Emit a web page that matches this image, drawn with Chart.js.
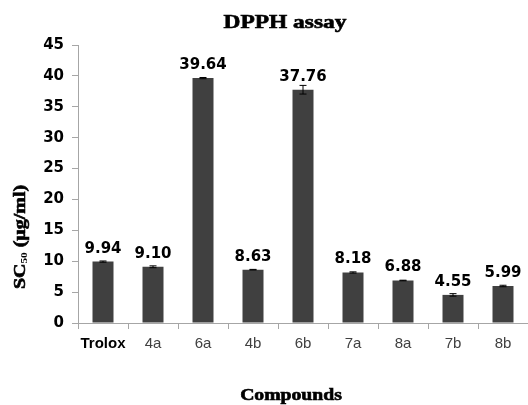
<!DOCTYPE html>
<html>
<head>
<meta charset="utf-8">
<script src="https://cdn.jsdelivr.net/npm/chart.js@4/dist/chart.umd.min.js"></script>
<style>
  html, body { margin: 0; padding: 0; background: #fff; }
  #wrap { width: 528px; height: 405px; }
</style>
</head>
<body>
<div id="wrap"><canvas id="chart" width="528" height="405"></canvas></div>
<script>
const compounds = ["Trolox", "4a", "6a", "4b", "6b", "7a", "8a", "7b", "8b"];
const sc50 = [9.94, 9.10, 39.64, 8.63, 37.76, 8.18, 6.88, 4.55, 5.99];
const sd = [0.1, 0.15, 0.1, 0.05, 0.7, 0.1, 0.05, 0.2, 0.12];
const yTicks = [0, 5, 10, 15, 20, 25, 30, 35, 40, 45];

// draw text stretched horizontally, with a thin stroke so it looks heavy like the source
function wideText(ctx, text, x, y, sx) {
  ctx.save();
  ctx.translate(x, y);
  ctx.scale(sx, 1);
  ctx.fillText(text, 0, 0);
  ctx.strokeText(text, 0, 0);
  ctx.restore();
}

const extras = {
  id: "extras",
  afterDatasetsDraw(chart) {
    const ctx = chart.ctx;
    const y = chart.scales.y;
    const bars = chart.getDatasetMeta(0).data;

    // error bars
    ctx.save();
    ctx.strokeStyle = "#000";
    ctx.lineWidth = 1;
    bars.forEach((bar, i) => {
      const top = y.getPixelForValue(sc50[i] + sd[i]);
      const bot = y.getPixelForValue(sc50[i] - sd[i]);
      ctx.beginPath();
      ctx.moveTo(bar.x, top); ctx.lineTo(bar.x, bot);
      ctx.moveTo(bar.x - 3.5, top); ctx.lineTo(bar.x + 3.5, top);
      ctx.moveTo(bar.x - 3.5, bot); ctx.lineTo(bar.x + 3.5, bot);
      ctx.stroke();
    });

    // value labels
    ctx.fillStyle = "#000";
    ctx.font = "bold 15px 'DejaVu Sans'";
    ctx.textAlign = "center";
    ctx.textBaseline = "alphabetic";
    bars.forEach((bar, i) => {
      ctx.fillText(sc50[i].toFixed(2), bar.x, bar.y - 9);
    });
    ctx.restore();
  },
  afterDraw(chart) {
    const ctx = chart.ctx;
    ctx.save();
    ctx.fillStyle = "#000";
    ctx.strokeStyle = "#000";
    ctx.lineWidth = 0.6;
    ctx.textAlign = "center";
    ctx.textBaseline = "alphabetic";

    ctx.font = "bold 18px 'Liberation Serif'";
    wideText(ctx, "DPPH assay", 285, 28, 1.3);

    ctx.font = "bold 16px 'Liberation Serif'";
    wideText(ctx, "Compounds", 291, 400, 1.23);

    // rotated y title with subscript
    ctx.translate(25, 237);
    ctx.rotate(-Math.PI / 2);
    ctx.scale(1.25, 1);
    ctx.textAlign = "left";
    const big = "bold 16px 'Liberation Serif'";
    const small = "bold 9px 'Liberation Serif'";
    ctx.font = big;
    const w1 = ctx.measureText("SC").width;
    const w3 = ctx.measureText(" (μg/ml)").width;
    ctx.font = small;
    const w2 = ctx.measureText("50").width;
    let x = -(w1 + w2 + w3) / 2;
    ctx.font = big;
    ctx.fillText("SC", x, 0);
    ctx.strokeText("SC", x, 0);
    x += w1;
    ctx.font = small;
    ctx.fillText("50", x, 2);
    x += w2;
    ctx.font = big;
    ctx.fillText(" (μg/ml)", x, 0);
    ctx.strokeText(" (μg/ml)", x, 0);
    ctx.restore();
  }
};

new Chart(document.getElementById("chart"), {
  type: "bar",
  data: {
    labels: compounds,
    datasets: [{
      data: sc50,
      backgroundColor: "#404040",
      barPercentage: 0.42,
      categoryPercentage: 1
    }]
  },
  options: {
    responsive: false,
    animation: false,
    layout: { padding: { top: 45, left: 0, right: 0, bottom: 0 } },
    plugins: {
      legend: { display: false },
      tooltip: { enabled: false }
    },
    scales: {
      x: {
        afterFit: (s) => { s.height = 82; },
        grid: { drawOnChartArea: false, tickLength: 6, color: "#a6a6a6", offset: true },
        border: { color: "#a6a6a6" },
        ticks: {
          padding: 6,
          maxRotation: 0,
          minRotation: 0,
          autoSkip: false,
          color: (c) => c.index === 0 ? "#000" : "#404040",
          font: (c) => c.index === 0
            ? { family: "'Liberation Sans'", size: 15, weight: "bold" }
            : { family: "'Liberation Sans'", size: 15, weight: "normal" }
        }
      },
      y: {
        min: 0,
        max: 45,
        afterFit: (s) => { s.width = 78; },
        afterBuildTicks: (s) => { s.ticks = yTicks.map(v => ({ value: v })); },
        grid: { drawOnChartArea: false, tickLength: 6, color: "#a6a6a6" },
        border: { color: "#a6a6a6" },
        ticks: {
          padding: 8,
          color: "#000",
          font: { family: "'DejaVu Sans'", size: 15, weight: "bold" }
        }
      }
    }
  },
  plugins: [extras]
});
</script>
</body>
</html>
